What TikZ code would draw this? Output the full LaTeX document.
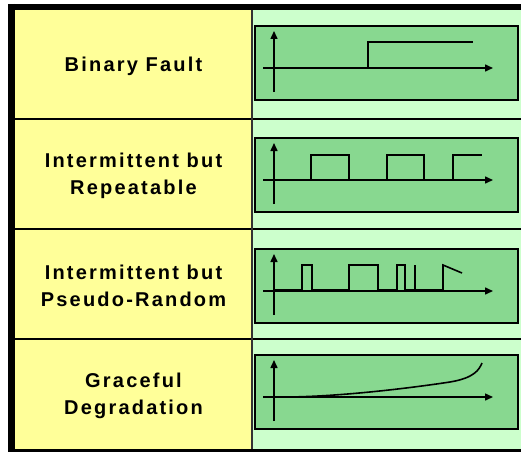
\documentclass[tikz,border=0pt]{standalone}
\usepackage{fontspec}
\newfontfamily\lblfont[LetterSpace=11]{Liberation Sans}
\usetikzlibrary{arrows.meta}
\definecolor{cellyellow}{RGB}{255,255,153}
\definecolor{cellgreen}{RGB}{204,255,204}
\definecolor{plotgreen}{RGB}{136,216,144}
\begin{document}
\begin{tikzpicture}[x=1pt,y=-1pt,
  lbl/.style={font=\lblfont\bfseries\fontsize{20}{27}\selectfont, align=center, inner sep=0pt},
  axis/.style={line width=1.5pt, -{Triangle[length=8pt,width=7pt]}},
  sig/.style={line width=2.7pt},
  thinsig/.style={line width=1.6pt}]
\useasboundingbox (0,0) rectangle (521,452);
\fill[white] (0,0) rectangle (521,452);

% table cells
\fill[cellyellow] (15,10) rectangle (252,449);
\fill[cellgreen] (252,10) rectangle (521,449);
\foreach \y in {119,229,339}{
  \draw[line width=1.8pt] (15,\y) -- (521,\y);
}
\draw[line width=1.2pt, black!80] (252,10) -- (252,449);
\draw[line width=3pt] (15,450.5) -- (521,450.5);
\draw[line width=6pt] (8,7) -- (521,7);
\draw[line width=7pt] (11.5,4) -- (11.5,452);

% labels
\node[lbl] (binary) at (133.5,66.5) {Binary Fault};
\node[lbl] (repeatable) at (133.5,176) {Intermittent but\\Repeatable};
\node[lbl] (pseudo) at (133.5,286) {Intermittent but\\Pseudo-Random};
\node[lbl] (graceful) at (133.5,396) {Graceful\\Degradation};

% plot boxes with axes
\foreach \top in {26,138,249,355}{
  \draw[line width=1.8pt, fill=plotgreen] (255,\top) rectangle (518,\top+74);
  \draw[axis] (274,\top+66) -- (274,\top+5);
  \draw[axis] (263,\top+42) -- (493,\top+42);
}

% binary fault
\begin{scope}[shift={(274,68)}]
  \draw[sig] (0,0) -- (94,0) -- (94,-26) -- (199,-26);
\end{scope}

% intermittent but repeatable
\begin{scope}[shift={(274,180)}]
  \draw[sig] (0,0) -- (37,0) -- (37,-25) -- (75,-25) -- (75,0) -- (113,0)
    -- (113,-25) -- (150,-25) -- (150,0) -- (179,0) -- (179,-25) -- (208,-25);
\end{scope}

% intermittent but pseudo-random
\begin{scope}[shift={(274,290)}]
  \draw[thinsig] (0,0) -- (28,0) -- (28,-25) -- (38,-25) -- (38,0) -- (75,0)
    -- (75,-25) -- (104,-25) -- (104,0) -- (123,0) -- (123,-25) -- (131,-25)
    -- (131,0) -- (141,0) -- (141,-25) -- (141,0) -- (169,0) -- (169,-25) -- (188,-17);
\end{scope}

% graceful degradation
\begin{scope}[shift={(274,397)}]
  \draw[thinsig] (10,0) .. controls (60,0) and (130,-8) .. (176,-15)
    .. controls (200,-19) and (205,-27) .. (208,-34);
\end{scope}
\end{tikzpicture}
\end{document}
